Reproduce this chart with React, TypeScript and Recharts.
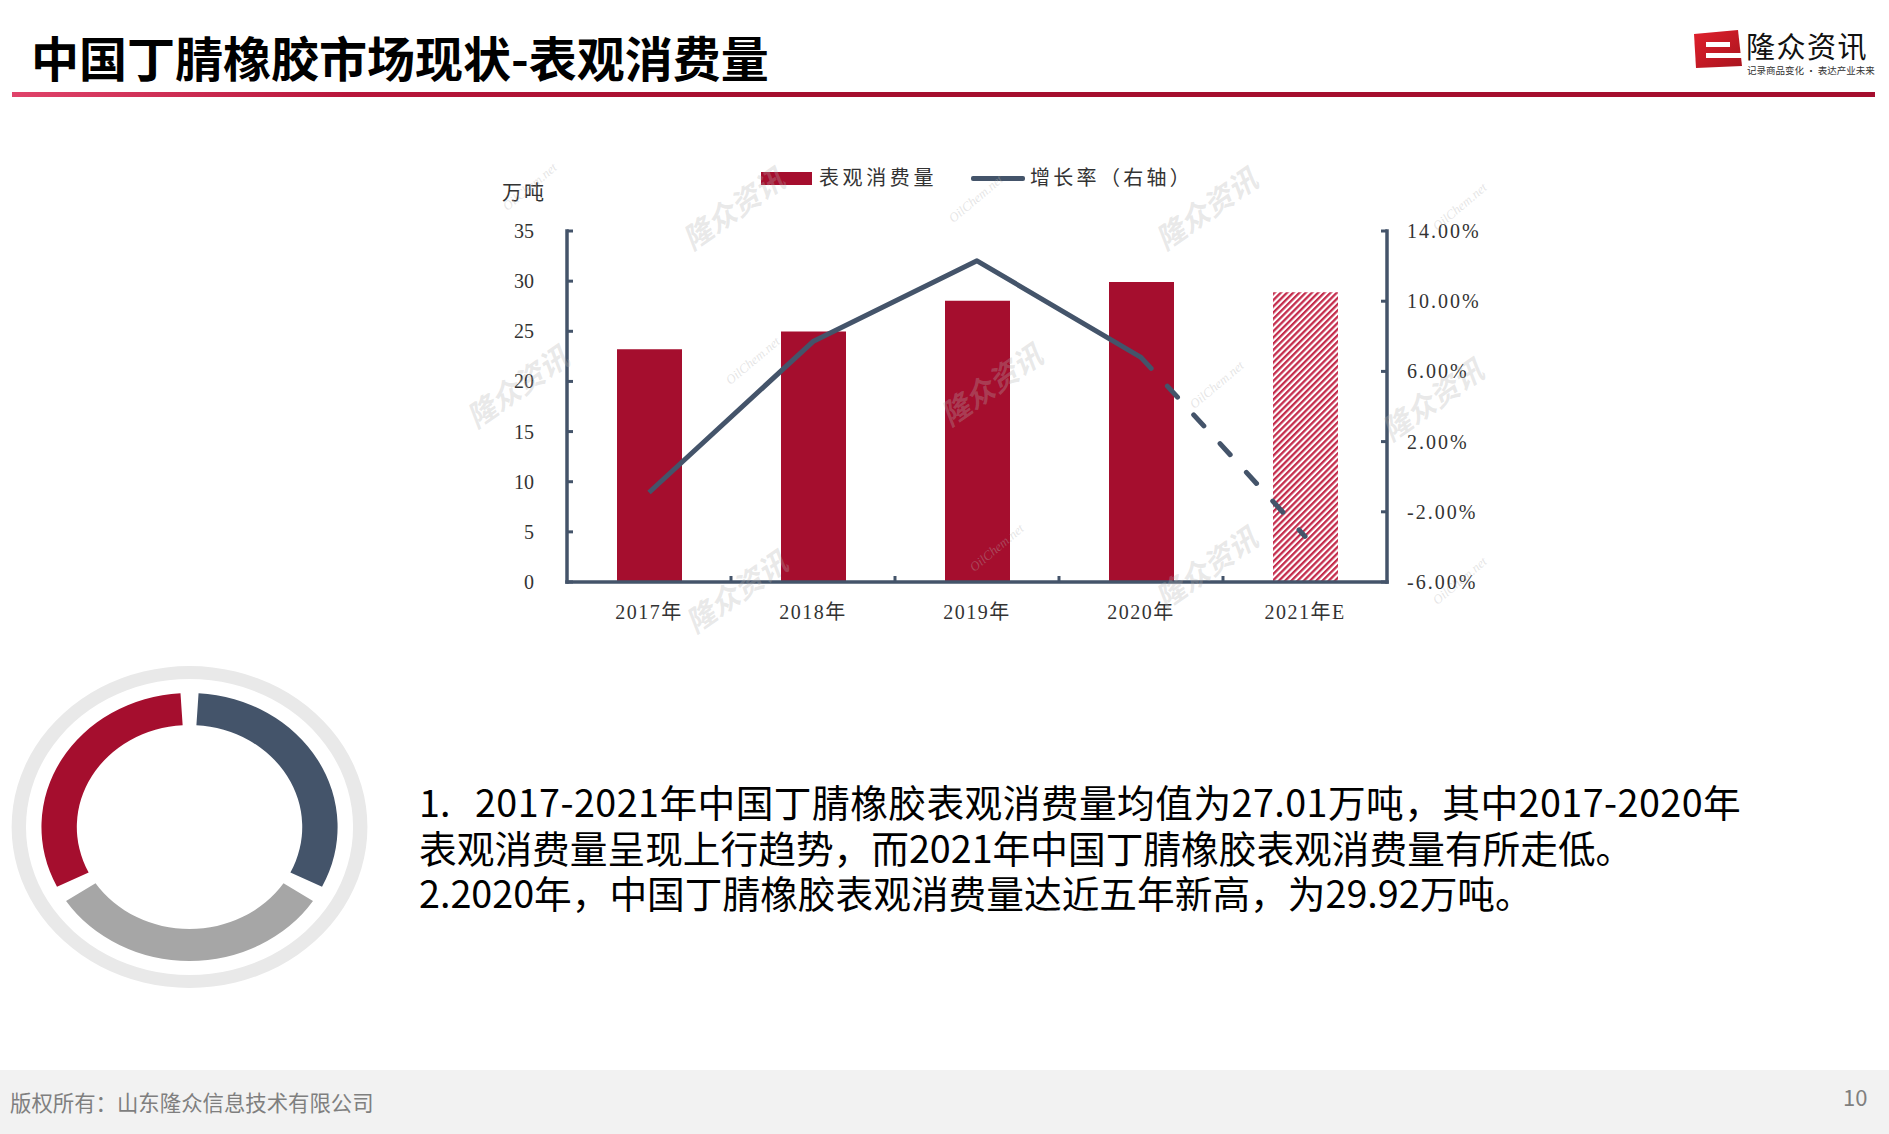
import React from "react"
import { ComposedChart, Bar, Line, XAxis, YAxis, Cell, PieChart, Pie } from "recharts"

const categories = ["2017年", "2018年", "2019年", "2020年", "2021年E"]
const consumption = [23.2, 24.98, 28.05, 29.92, 28.9]
const growthRate = [-0.9, 7.7, 12.3, 6.8, -3.4]
const actualYears = 4
const leftTicks = [0, 5, 10, 15, 20, 25, 30, 35]
const rightTicks = [-6, -2, 2, 6, 10, 14]
const donutWeights = [1, 1, 1]
const donutColors = ["#a50e2e", "#a6a6a6", "#44546a"]

const RED = "#a50e2e"
const AXIS = "#44546a"
const SERIF = '"Liberation Serif", "Noto Sans CJK SC", serif'
const SANS = '"Noto Sans CJK SC", "Noto Sans", sans-serif'

const CHART_W = 1060
const CHART_H = 520
const PLOT_W = 820
const BAND = PLOT_W / categories.length

const data = categories.map((cat, i) => ({
  cat,
  value: consumption[i],
  solid: i < actualYears ? growthRate[i] : null,
  dashed: i >= actualYears - 1 ? growthRate[i] : null,
}))

function LeftTick({ x, y, payload }: any) {
  return (
    <g>
      <line x1={x} x2={x + 6} y1={y} y2={y} stroke={AXIS} strokeWidth={3} />
      <text x={x - 33} y={y} dy="0.35em" textAnchor="end" fontSize={20} fill="#333" fontFamily={SERIF}>
        {payload.value}
      </text>
    </g>
  )
}

function RightTick({ x, y, payload }: any) {
  return (
    <g>
      <line x1={x} x2={x - 6} y1={y} y2={y} stroke={AXIS} strokeWidth={3} />
      <text x={x + 20} y={y} dy="0.35em" textAnchor="start" fontSize={20} fill="#333" fontFamily={SERIF} style={{ letterSpacing: 2 }}>
        {`${payload.value.toFixed(2)}%`}
      </text>
    </g>
  )
}

function BottomTick({ x, y, payload, index }: any) {
  return (
    <g>
      {index < categories.length - 1 && (
        <line x1={x + BAND / 2} x2={x + BAND / 2} y1={y} y2={y - 6} stroke={AXIS} strokeWidth={3} />
      )}
      <text x={x} y={y + 30} dy="0.35em" textAnchor="middle" fontSize={20} fill="#333" fontFamily={SERIF} style={{ letterSpacing: 1.5 }}>
        {payload.value}
      </text>
    </g>
  )
}

const marks = [
  { t: "隆众资讯", x: 732, y: 207 }, { t: "隆众资讯", x: 1205, y: 207 },
  { t: "隆众资讯", x: 516, y: 385 }, { t: "隆众资讯", x: 990, y: 383 },
  { t: "隆众资讯", x: 1431, y: 398 }, { t: "隆众资讯", x: 735, y: 590 },
  { t: "隆众资讯", x: 1205, y: 566 },
]
const nets = [
  { x: 530, y: 187 }, { x: 976, y: 199 }, { x: 1460, y: 207 }, { x: 753, y: 361 },
  { x: 1217, y: 385 }, { x: 997, y: 548 }, { x: 1460, y: 581 },
]

function Logo() {
  return (
    <div style={{ position: "absolute", left: 1690, top: 26, width: 190, height: 52 }}>
      <svg width={56} height={46} style={{ position: "absolute", left: 0, top: 2 }}>
        <defs>
          <linearGradient id="logoRed" x1="0" y1="0" x2="1" y2="1">
            <stop offset="0" stopColor="#e0202c" />
            <stop offset="1" stopColor="#a8141e" />
          </linearGradient>
        </defs>
        <path d="M4 6 L48 2 L52 38 L6 40 Z" fill="url(#logoRed)" />
        <rect x={16} y={14} width={24} height={5} fill="#fff" />
        <rect x={16} y={25} width={38} height={5} fill="#fff" />
      </svg>
      <div style={{ position: "absolute", left: 56, top: 4, fontFamily: SANS, fontSize: 29, lineHeight: "30px", color: "#111", letterSpacing: 1.5 }}>
        隆众资讯
      </div>
      <div style={{ position: "absolute", left: 57, top: 39, fontFamily: SANS, fontSize: 9.5, lineHeight: "10px", color: "#333", whiteSpace: "nowrap" }}>
        记录商品变化 · 表达产业未来
      </div>
    </div>
  )
}

function Donut() {
  return (
    <div style={{ position: "absolute", left: 184 - 180, top: 822 - 170, width: 360, height: 340, transform: "scaleX(1.105)", transformOrigin: "180px 170px" }}>
      <PieChart width={360} height={340}>
        <Pie data={[{ v: 1 }]} dataKey="v" cx={180} cy={170} innerRadius={148} outerRadius={161} fill="#e9e9e9" stroke="none" isAnimationActive={false} />
        <Pie
          data={donutWeights.map((v) => ({ v }))}
          dataKey="v"
          cx={180}
          cy={170}
          innerRadius={102}
          outerRadius={134}
          startAngle={93.5}
          endAngle={453.5}
          paddingAngle={7}
          stroke="none"
          isAnimationActive={false}
        >
          {donutWeights.map((_, i) => (
            <Cell key={i} fill={donutColors[i]} />
          ))}
        </Pie>
      </PieChart>
    </div>
  )
}

export default function App() {
  return (
    <div style={{ position: "absolute", left: 0, top: 0, width: 1889, height: 1134, background: "#fff", overflow: "hidden" }}>
      <div style={{ position: "absolute", left: 31, top: 30, fontFamily: SANS, fontWeight: 700, fontSize: 48, lineHeight: "52px", color: "#000", whiteSpace: "nowrap" }}>
        中国丁腈橡胶市场现状-表观消费量
      </div>
      <div style={{ position: "absolute", left: 12, top: 92, width: 1863, height: 5, background: "linear-gradient(90deg, #e0436a 0%, #b8163b 18%, #a50e2e 40%, #a50e2e 100%)" }} />
      <Logo />

      <div style={{ position: "absolute", left: 440, top: 130 }}>
        <ComposedChart width={CHART_W} height={CHART_H} data={data} margin={{ top: 101, right: 0, left: 0, bottom: 0 }}>
          <defs>
            <pattern id="hatch" patternUnits="userSpaceOnUse" width={4.4} height={4.4} patternTransform="rotate(45)">
              <rect width={2.3} height={4.4} fill="#c42c4c" />
            </pattern>
          </defs>
          <XAxis
            dataKey="cat"
            interval={0}
            height={68}
            tickSize={0}
            tickMargin={0}
            tickLine={false}
            axisLine={{ stroke: AXIS, strokeWidth: 3.5, strokeLinecap: "square" }}
            tick={<BottomTick />}
          />
          <YAxis
            yAxisId="left"
            width={127}
            domain={[0, 35]}
            ticks={leftTicks}
            tickSize={0}
            tickMargin={0}
            tickLine={false}
            axisLine={{ stroke: AXIS, strokeWidth: 3.5, strokeLinecap: "square" }}
            tick={<LeftTick />}
          />
          <YAxis
            yAxisId="right"
            orientation="right"
            width={113}
            domain={[-6, 14]}
            ticks={rightTicks}
            tickSize={0}
            tickMargin={0}
            tickLine={false}
            axisLine={{ stroke: AXIS, strokeWidth: 3.5, strokeLinecap: "square" }}
            tick={<RightTick />}
          />
          <Bar yAxisId="left" dataKey="value" barSize={65} isAnimationActive={false}>
            {data.map((_, i) => (
              <Cell key={i} fill={i < actualYears ? RED : "url(#hatch)"} />
            ))}
          </Bar>
          <Line yAxisId="right" dataKey="solid" stroke={AXIS} strokeWidth={5} dot={false} activeDot={false} strokeLinejoin="round" isAnimationActive={false} />
          <Line yAxisId="right" dataKey="dashed" stroke={AXIS} strokeWidth={5} strokeDasharray="15 24" strokeLinecap="round" dot={false} activeDot={false} isAnimationActive={false} />
        </ComposedChart>
      </div>

      {/* legend */}
      <div style={{ position: "absolute", left: 761, top: 172, width: 51, height: 13, background: RED }} />
      <div style={{ position: "absolute", left: 819, top: 164, fontFamily: SERIF, fontSize: 20, lineHeight: "28px", color: "#333", letterSpacing: 3.6, whiteSpace: "nowrap" }}>表观消费量</div>
      <div style={{ position: "absolute", left: 971, top: 176, width: 54, height: 5, background: AXIS, borderRadius: 2 }} />
      <div style={{ position: "absolute", left: 1030, top: 164, fontFamily: SERIF, fontSize: 20, lineHeight: "28px", color: "#333", letterSpacing: 3.3, whiteSpace: "nowrap" }}>增长率（右轴）</div>
      <div style={{ position: "absolute", left: 502, top: 179, fontFamily: SERIF, fontSize: 20, lineHeight: "28px", color: "#333", letterSpacing: 2, whiteSpace: "nowrap" }}>万吨</div>

      {/* watermarks */}
      {marks.map((m, i) => (
        <div key={"m" + i} style={{ position: "absolute", left: m.x - 65, top: m.y - 17, width: 130, textAlign: "center", fontFamily: SANS, fontWeight: 700, fontStyle: "italic", fontSize: 29, lineHeight: "34px", color: "rgba(180,180,180,0.3)", transform: "rotate(-35deg)", pointerEvents: "none" }}>
          {m.t}
        </div>
      ))}
      {nets.map((m, i) => (
        <div key={"n" + i} style={{ position: "absolute", left: m.x - 45, top: m.y - 8, width: 90, textAlign: "center", fontFamily: SERIF, fontStyle: "italic", fontSize: 13, lineHeight: "16px", color: "rgba(180,180,180,0.35)", transform: "rotate(-40deg)", pointerEvents: "none" }}>
          OilChem.net
        </div>
      ))}

      <Donut />

      <div style={{ position: "absolute", left: 419, top: 778, fontFamily: SANS, fontSize: 37.7, lineHeight: "45.5px", color: "#000" }}>
        <div style={{ position: "relative", height: 45.5, whiteSpace: "nowrap" }}>
          <span>1.</span>
          <span style={{ position: "absolute", left: 56, top: 0, letterSpacing: 0.45 }}>2017-2021年中国丁腈橡胶表观消费量均值为27.01万吨，其中2017-2020年</span>
        </div>
        <div style={{ whiteSpace: "nowrap" }}>表观消费量呈现上行趋势，而2021年中国丁腈橡胶表观消费量有所走低。</div>
        <div style={{ whiteSpace: "nowrap" }}>2.2020年，中国丁腈橡胶表观消费量达近五年新高，为29.92万吨。</div>
      </div>

      <div style={{ position: "absolute", left: 0, top: 1070, width: 1889, height: 64, background: "#f2f2f2" }} />
      <div style={{ position: "absolute", left: 10, top: 1087, fontFamily: SANS, fontSize: 21.4, lineHeight: "30px", color: "#7f7f7f", whiteSpace: "nowrap" }}>版权所有：山东隆众信息技术有限公司</div>
      <div style={{ position: "absolute", left: 1843, top: 1081, fontFamily: SANS, fontSize: 22, lineHeight: "30px", color: "#7f7f7f" }}>10</div>
    </div>
  )
}
